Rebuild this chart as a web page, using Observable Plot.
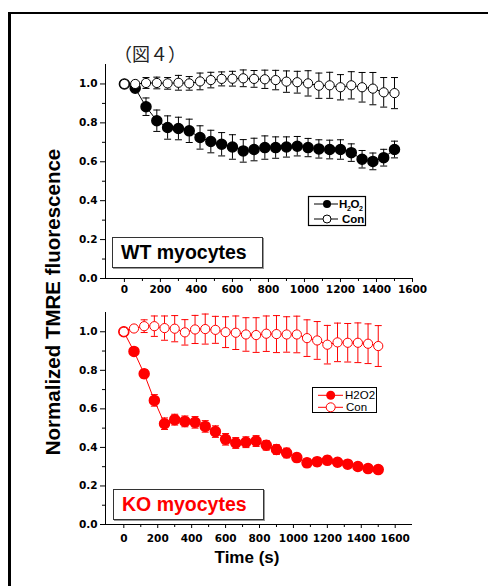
<!DOCTYPE html>
<html><head><meta charset="utf-8">
<script src="https://cdn.jsdelivr.net/npm/d3@7"></script>
<script src="https://cdn.jsdelivr.net/npm/@observablehq/plot@0.6"></script>
<style>
body{margin:0;background:#fff;}
#page{position:relative;width:488px;height:586px;overflow:hidden;font-family:"Liberation Sans",Arial,sans-serif;background:#fff;}
#frame{position:absolute;left:8px;top:12px;width:600px;height:700px;border-left:3px solid #000;border-top:2px solid #000;}
.abs{position:absolute;white-space:nowrap;}
.plot{position:absolute;left:0;}
.lbox{position:absolute;box-sizing:border-box;border:1px solid #333;box-shadow:1px 1px 0 #999;background:#fff;font-weight:bold;font-size:19.5px;line-height:29px;padding-left:8px;}
</style></head><body><div id="page"><div id="frame"></div></div>
<script>
const time = [0,60,120,180,240,300,360,420,480,540,600,660,720,780,840,900,960,1020,1080,1140,1200,1260,1320,1380,1440,1500];
const wtH2O2 = [1.0,0.978,0.883,0.811,0.776,0.771,0.759,0.725,0.704,0.690,0.676,0.656,0.663,0.673,0.673,0.676,0.680,0.673,0.666,0.663,0.663,0.647,0.613,0.602,0.621,0.663];
const wtH2O2Err = [0,0.015,0.045,0.055,0.06,0.058,0.06,0.06,0.058,0.06,0.063,0.058,0.058,0.06,0.055,0.052,0.05,0.047,0.047,0.048,0.05,0.045,0.045,0.043,0.043,0.043];
const wtCon = [1.0,1.0,1.005,1.005,1.003,1.006,1.003,1.013,1.02,1.026,1.027,1.029,1.026,1.024,1.02,1.012,1.009,1.003,0.991,0.993,0.983,0.993,0.983,0.976,0.957,0.953];
const wtConErr = [0,0.01,0.028,0.03,0.03,0.038,0.035,0.043,0.04,0.036,0.038,0.043,0.043,0.047,0.05,0.055,0.056,0.065,0.065,0.067,0.065,0.07,0.076,0.083,0.076,0.08];
const koH2O2 = [1.0,0.898,0.782,0.644,0.523,0.544,0.535,0.530,0.509,0.482,0.442,0.423,0.427,0.433,0.411,0.389,0.371,0.347,0.320,0.326,0.333,0.323,0.313,0.301,0.290,0.285];
const koH2O2Err = [0,0.012,0.022,0.03,0.03,0.028,0.028,0.03,0.03,0.03,0.03,0.028,0.028,0.028,0.025,0.025,0.025,0.022,0.022,0.022,0.022,0.02,0.02,0.02,0.02,0.02];
const koCon = [1.0,1.017,1.029,1.029,1.019,1.016,0.997,1.012,1.014,1.010,0.998,0.995,0.986,0.983,0.99,0.988,0.986,0.986,0.967,0.955,0.933,0.945,0.943,0.943,0.938,0.926];
const koConErr = [0,0.01,0.033,0.053,0.063,0.068,0.066,0.073,0.078,0.07,0.08,0.087,0.087,0.09,0.092,0.096,0.092,0.095,0.095,0.098,0.1,0.1,0.1,0.103,0.103,0.106];
const yTicks = [0,0.2,0.4,0.6,0.8,1.0];
const yMinor = [0.1,0.3,0.5,0.7,0.9];
const xTicks = [0,200,400,600,800,1000,1200,1400,1600];
const xMinor = [100,300,500,700,900,1100,1300,1500];
const yLabel = "Normalized TMRE fluorescence";
const xLabel = "Time (s)";
const figTitle = "（図４）";

const cap = {draw(ctx, size){const r = Math.sqrt(size/Math.PI); ctx.moveTo(-r,0); ctx.lineTo(r,0);}};

function panel(o){
  const rows = (vals, errs) => time.map((t,i)=>({t, v:vals[i], e:errs[i]}));
  const A = rows(o.h2o2, o.h2o2Err), B = rows(o.con, o.conErr);
  const eb = (R) => {
    const f = R.filter(d=>d.e>0);
    return [
      Plot.ruleX(f, {x:"t", y1:d=>d.v-d.e, y2:d=>d.v+d.e, stroke:o.color, strokeWidth:1}),
      Plot.dot(f, {x:"t", y:d=>d.v+d.e, symbol:cap, r:3.5, fill:"none", stroke:o.color, strokeWidth:1}),
      Plot.dot(f, {x:"t", y:d=>d.v-d.e, symbol:cap, r:3.5, fill:"none", stroke:o.color, strokeWidth:1})
    ];
  };
  return Plot.plot({
    width:430, height:o.height, marginLeft:105, marginRight:18, marginTop:o.mt, marginBottom:o.mb,
    x:{domain:o.xDomain}, y:{domain:[0,1.1]},
    style:{fontFamily:"DejaVu Sans", fontWeight:"bold", fontSize:"10.5px", color:"#000", background:"transparent", overflow:"visible"},
    marks:[
      Plot.axisY({ticks:yTicks, tickSize:5, tickPadding:3, tickFormat:d3.format(".1f"), label:null}),
      Plot.axisY({ticks:yMinor, tickSize:3, tickFormat:()=>"", label:null}),
      Plot.axisX({ticks:xTicks, tickSize:4, tickPadding:o.tickPad, tickFormat:d3.format("d"), label:null}),
      Plot.axisX({ticks:xMinor, tickSize:3, tickFormat:()=>"", label:null}),
      Plot.ruleX([o.xDomain[0]], {stroke:"#000", strokeWidth:1}),
      Plot.ruleY([0], {stroke:"#000", strokeWidth:1}),
      ...eb(A),
      Plot.line(A, {x:"t", y:"v", stroke:o.color, strokeWidth:1}),
      Plot.dot(A, {x:"t", y:"v", r:5, fill:o.color, stroke:o.color}),
      ...eb(B),
      Plot.line(B, {x:"t", y:"v", stroke:o.color, strokeWidth:1}),
      Plot.dot(B, {x:"t", y:"v", r:4.6, fill:"#fff", stroke:o.color, strokeWidth:1})
    ]
  });
}

const page = document.getElementById("page");
const p1 = panel({h2o2:wtH2O2, h2o2Err:wtH2O2Err, con:wtCon, conErr:wtConErr, color:"#000",
  xDomain:[-105,1600], height:250, mt:14, mb:22, tickPad:3});
p1.classList.add("plot"); p1.style.top = "50px";
page.appendChild(p1);
const p2 = panel({h2o2:koH2O2, h2o2Err:koH2O2Err, con:koCon, conErr:koConErr, color:"#ff0000",
  xDomain:[-108,1702], height:246, mt:12, mb:22, tickPad:6});
p2.classList.add("plot"); p2.style.top = "300px";
page.appendChild(p2);

function addDiv(html, css, cls){
  const d = document.createElement("div");
  d.className = cls || "abs";
  d.innerHTML = html;
  Object.assign(d.style, css);
  page.appendChild(d);
  return d;
}
// title
addDiv(figTitle, {left:"114px", top:"44px", fontFamily:"'Noto Sans CJK JP'", fontSize:"18px", lineHeight:"18px", color:"#222"});
// y label
addDiv(yLabel, {left:"53px", top:"302px", transform:"translate(-50%,-50%) rotate(-90deg)", fontWeight:"bold", fontSize:"20.5px", lineHeight:"22px"});
// x label
addDiv(xLabel, {left:"247px", top:"549px", transform:"translateX(-50%)", fontWeight:"bold", fontSize:"17px", lineHeight:"17px"});
// panel labels
addDiv("WT myocytes", {left:"112px", top:"237px", width:"151px", height:"31px", color:"#000"}, "lbox");
addDiv("KO myocytes", {left:"113px", top:"489px", width:"151px", height:"31px", color:"#ff0000"}, "lbox");
// legends
addDiv(`<svg width="58" height="30" style="display:block;overflow:visible">
<rect x="0.5" y="0.5" width="57" height="29" fill="#fff" stroke="#000" stroke-width="1.2"/>
<line x1="6" x2="30" y1="8" y2="8" stroke="#000"/><circle cx="19" cy="8" r="4" fill="#000"/>
<text x="31" y="12" font-family="Liberation Sans" font-weight="bold" font-size="11.5" letter-spacing="-0.4">H<tspan font-size="7" dy="3">2</tspan><tspan dy="-3">O</tspan><tspan font-size="7" dy="3">2</tspan></text>
<line x1="6" x2="30" y1="23" y2="23" stroke="#000"/><circle cx="19" cy="23" r="4" fill="#fff" stroke="#000"/>
<text x="34" y="27" font-family="Liberation Sans" font-weight="bold" font-size="11.5">Con</text></svg>`,
  {left:"308px", top:"196px"});
addDiv(`<svg width="65" height="26" style="display:block;overflow:visible">
<rect x="0.5" y="0.5" width="64" height="25" fill="#fff" stroke="#000" stroke-width="1"/>
<line x1="6" x2="31" y1="8.3" y2="8.3" stroke="#ff0000"/><circle cx="18.7" cy="8.3" r="4.5" fill="#ff0000"/>
<text x="33" y="12.3" font-family="Liberation Sans" font-size="11.5" fill="#000">H2O2</text>
<line x1="6" x2="31" y1="20.3" y2="20.3" stroke="#ff0000"/><circle cx="18.7" cy="20.3" r="4.5" fill="#fff" stroke="#ff0000"/>
<text x="34" y="24.3" font-family="Liberation Sans" font-size="11.5" fill="#000">Con</text></svg>`,
  {left:"312px", top:"387px"});
</script></body></html>
